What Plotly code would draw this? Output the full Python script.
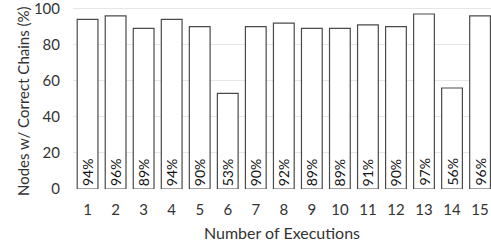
import plotly.graph_objects as go

executions = [str(i) for i in range(1, 16)]
values = [94, 96, 89, 94, 90, 53, 90, 92, 89, 89, 91, 90, 97, 56, 96]
labels = [f"{v}%" for v in values]
y_ticks = [0, 20, 40, 60, 80, 100]

font_family = "Lato, 'Open Sans', sans-serif"
x_pos = list(range(1, 16))

fig = go.Figure(go.Bar(
    x=x_pos,
    y=values,
    marker=dict(color="white", line=dict(color="#4a4a4a", width=1.2)),
    width=0.74,
    hoverinfo="skip",
))

for xv, lab in zip(x_pos, labels):
    fig.add_annotation(
        x=xv, y=0, xref="x", yref="y",
        text=lab, showarrow=False, textangle=-90,
        xanchor="center", yanchor="bottom", yshift=1,
        font=dict(family=font_family, size=14, color="#111"),
    )

# y-axis title placed as a rotated annotation
fig.add_annotation(
    x=0, y=0.5, xref="paper", yref="paper",
    text="Nodes w/ Correct Chains (%)", showarrow=False, textangle=-90,
    xanchor="center", yanchor="middle", xshift=-50, yshift=-4,
    font=dict(family=font_family, size=15, color="#333"),
)

fig.update_layout(
    width=491, height=246,
    margin=dict(l=73, r=0, t=5, b=57),
    paper_bgcolor="white", plot_bgcolor="white",
    showlegend=False,
    font=dict(family=font_family, size=15, color="#333"),
    xaxis=dict(
        range=[0.48, 15.39],
        tickmode="array",
        tickvals=x_pos,
        ticktext=executions,
        showgrid=False, zeroline=False, showline=False,
        ticks="", ticklen=0,
        automargin=False,
        ticklabelstandoff=10,
        tickfont=dict(size=15, color="#333"),
        title=dict(text="Number of Executions", font=dict(size=16, color="#333"), standoff=10),
    ),
    yaxis=dict(
        range=[0, 102],
        tickmode="array",
        tickvals=y_ticks,
        showgrid=True, gridcolor="#e6e6e6", gridwidth=1,
        zeroline=False, showline=False,
        ticks="", ticklen=0,
        automargin=False,
        ticklabelstandoff=12,
        ticklabeloverflow="allow",
        tickfont=dict(size=15, color="#333"),
    ),
)

fig.write_html(
    "out.html",
    config={"displayModeBar": False},
    post_script="document.body.style.margin='0';document.body.style.padding='0';",
)
